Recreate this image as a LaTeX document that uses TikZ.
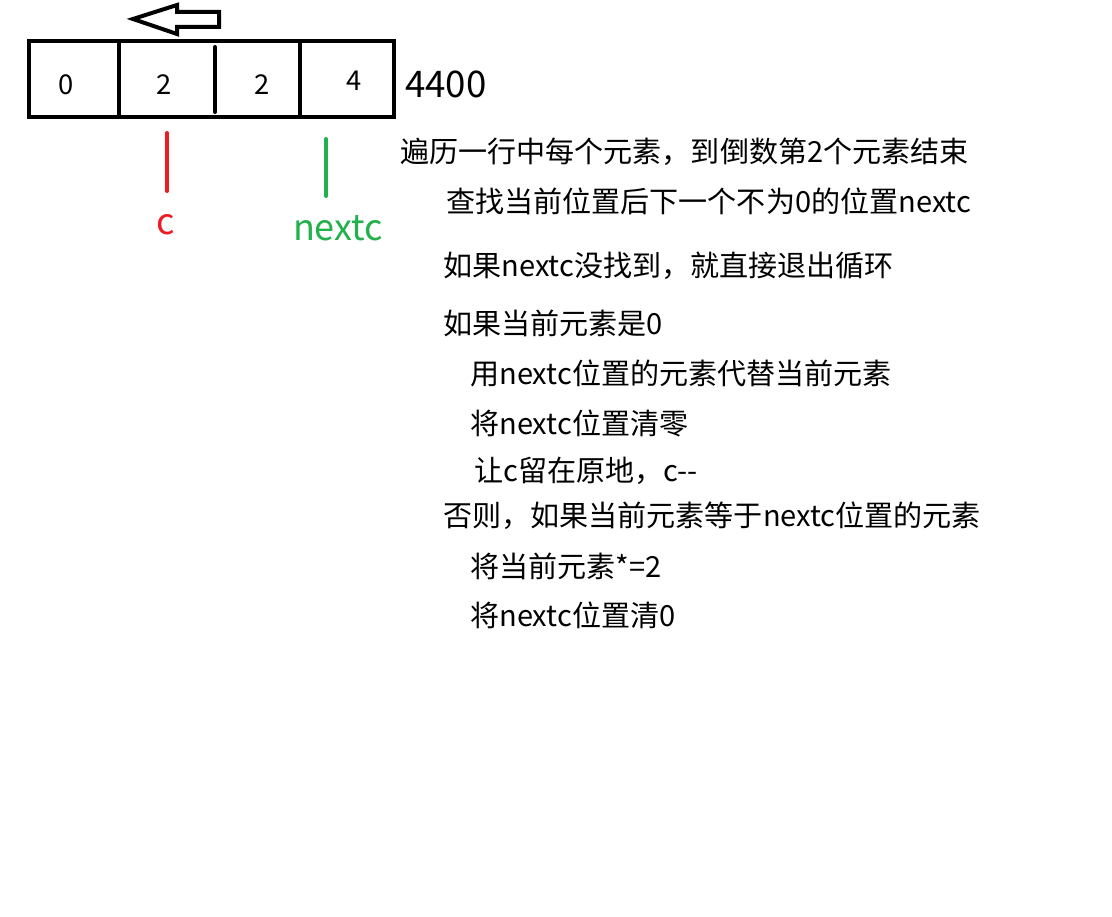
\documentclass[tikz,border=0pt]{standalone}
\usepackage{fontspec}
\setmainfont{Noto Sans CJK SC}
\definecolor{pred}{RGB}{237,28,36}
\definecolor{pgreen}{RGB}{34,177,76}
\begin{document}
\begin{tikzpicture}[x=0.75pt,y=-0.75pt,
  txt/.style={anchor=west,inner sep=0pt,font=\fontsize{21.8}{26}\selectfont},
  cell/.style={inner sep=0pt,font=\fontsize{20.5}{24}\selectfont},
  heavy/.style={line width=3pt},
  pointer/.style={line width=3pt,line cap=round}]
\useasboundingbox (0,0) rectangle (1112,916);
\fill[white] (0,0) rectangle (1112,916);
% array
\draw[heavy] (29,41) rectangle (394,117);
\draw[heavy] (119,41) -- (119,119);
\draw[heavy,line cap=round] (215,47) -- (215,112);
\draw[heavy] (300,41) -- (300,117);
\node[cell] (v0) at (66,85) {0};
\node[cell] (v1) at (164,85) {2};
\node[cell] (v2) at (262,85) {2};
\node[cell] (v3) at (354,81) {4};
\node[inner sep=0pt,font=\fontsize{27.5}{32}\selectfont,anchor=west] (res) at (405,84) {4400};
% arrow
\draw[heavy,line join=miter] (133,19) -- (177,5) -- (177,12) -- (219,12) -- (219,27) -- (177,27) -- (177,34) -- cycle;
% pointers
\node[inner sep=0pt,text=pred,font=\fontsize{27}{32}\selectfont] (c) at (166,225) {c};
\node[inner sep=0pt,text=pgreen,font=\fontsize{27}{32}\selectfont] (nc) at (338,228) {nextc};
\coordinate (ctop) at (167,133);
\coordinate (ntop) at (326,139);
\draw[pointer,pred] (ctop) -- (167,191);
\draw[pointer,pgreen] (ntop) -- (326,196);
% text
\node[txt] (t1) at (400,152) {遍历一行中每个元素，到倒数第2个元素结束};
\node[txt] (t2) at (446,201) {查找当前位置后下一个不为0的位置nextc};
\node[txt] (t3) at (443,266) {如果nextc没找到，就直接退出循环};
\node[txt] (t4) at (443,323) {如果当前元素是0};
\node[txt] (t5) at (470,373) {用nextc位置的元素代替当前元素};
\node[txt] (t6) at (470,423) {将nextc位置清零};
\node[txt] (t7) at (474,471) {让c留在原地，c-{}-};
\node[txt] (t8) at (443,516) {否则，如果当前元素等于nextc位置的元素};
\node[txt] (t9) at (470,566) {将当前元素*=2};
\node[txt] (t10) at (470,615) {将nextc位置清0};
\end{tikzpicture}
\end{document}
